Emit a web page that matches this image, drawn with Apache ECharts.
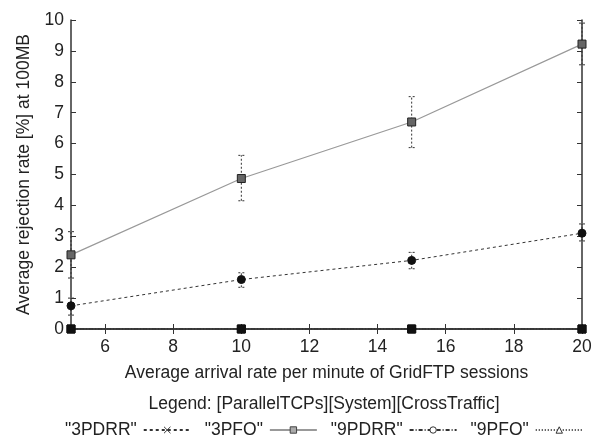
<!DOCTYPE html>
<html>
<head>
<meta charset="utf-8">
<script src="https://cdn.jsdelivr.net/npm/echarts@6/dist/echarts.min.js"></script>
<style>html,body{margin:0;padding:0;background:#fff;}#c{width:601px;height:435px;}</style>
</head>
<body>
<div id="c"></div>
<script>
const xValues = [5, 10, 15, 20];
const xTicks = [6, 8, 10, 12, 14, 16, 18, 20];
const seriesNames = ['"3PDRR"', '"3PFQ"', '"9PDRR"', '"9PFQ"'];
const pdrr3 = [0.75, 1.6, 2.22, 3.1];
const pdrr3Low = [0.45, 1.35, 1.95, 2.85];
const pdrr3High = [1.0, 1.82, 2.48, 3.4];
const pfq3 = [2.4, 4.87, 6.7, 9.22];
const pfq3Low = [1.65, 4.15, 5.87, 8.55];
const pfq3High = [3.15, 5.62, 7.52, 9.9];
const pdrr9 = [0, 0, 0, 0];
const pfq9 = [0, 0, 0, 0];

const FONT = 'Liberation Sans, Arial, sans-serif';
const TXT = '#222';
const FS = 17.5;

function pts(ys, sym) {
  return xValues.map((x, i) => ({ value: [x, ys[i]], symbol: sym }));
}
function errData(lo, hi) {
  return xValues.map((x, i) => [x, lo[i], hi[i]]);
}
function errRender(params, api) {
  const x = api.value(0);
  const p1 = api.coord([x, api.value(1)]);
  const p2 = api.coord([x, api.value(2)]);
  const w = 3;
  const st = { stroke: '#333', lineWidth: 1, lineDash: [2, 2], fill: null };
  return {
    type: 'group',
    children: [
      { type: 'line', shape: { x1: p1[0], y1: p1[1], x2: p2[0], y2: p2[1] }, style: st },
      { type: 'line', shape: { x1: p1[0] - w, y1: p1[1], x2: p1[0] + w, y2: p1[1] }, style: st },
      { type: 'line', shape: { x1: p2[0] - w, y1: p2[1], x2: p2[0] + w, y2: p2[1] }, style: st }
    ]
  };
}

const chart = echarts.init(document.getElementById('c'), null, { renderer: 'canvas' });
const axisCommon = {
  axisLine: { show: true, lineStyle: { color: '#333', width: 1.5 } },
  splitLine: { show: false }
};
chart.setOption({
  animation: false,
  backgroundColor: '#fff',
  textStyle: { fontFamily: FONT, color: TXT },
  grid: { left: 71, right: 19, top: 20, bottom: 106 },
  xAxis: [
    Object.assign({
      type: 'value', min: 5, max: 20, position: 'bottom',
      name: 'Average arrival rate per minute of GridFTP sessions',
      nameLocation: 'middle', nameGap: 35,
      nameTextStyle: { fontSize: FS, color: TXT, fontFamily: FONT },
      axisTick: { show: true, inside: true, length: 5, customValues: xTicks, lineStyle: { color: '#333' } },
      axisLabel: { show: true, customValues: xTicks, fontSize: FS, color: TXT, fontFamily: FONT, margin: 9 }
    }, axisCommon),
    Object.assign({
      type: 'value', min: 5, max: 20, position: 'top',
      axisTick: { show: true, inside: true, length: 5, customValues: xTicks, lineStyle: { color: '#333' } },
      axisLabel: { show: false }
    }, axisCommon)
  ],
  yAxis: [
    Object.assign({
      type: 'value', min: 0, max: 10, interval: 1, position: 'left',
      name: 'Average rejection rate [%] at 100MB',
      nameLocation: 'middle', nameGap: 29,
      nameTextStyle: { fontSize: FS, color: TXT, fontFamily: FONT },
      axisTick: { show: true, inside: true, length: 5, lineStyle: { color: '#333' } },
      axisLabel: { fontSize: FS, color: TXT, fontFamily: FONT, margin: 7 }
    }, axisCommon),
    Object.assign({
      type: 'value', min: 0, max: 10, interval: 1, position: 'right',
      axisTick: { show: true, inside: true, length: 5, lineStyle: { color: '#333' } },
      axisLabel: { show: false }
    }, axisCommon)
  ],
  legend: {
    left: 60, top: 416,
    align: 'right',
    itemWidth: 47, itemHeight: 8, itemGap: 13,
    textStyle: { fontSize: FS, color: TXT, fontFamily: FONT, padding: [0, 2, 0, 0] },
    data: [
      { name: seriesNames[0], itemStyle: { color: 'none', borderColor: '#333', borderWidth: 1 } },
      { name: seriesNames[1], itemStyle: { color: '#aaa', borderColor: '#444', borderWidth: 1 } },
      { name: seriesNames[2], itemStyle: { color: '#fff', borderColor: '#333', borderWidth: 1 } },
      { name: seriesNames[3], itemStyle: { color: '#fff', borderColor: '#333', borderWidth: 1 } }
    ]
  },
  graphic: [
    {
      type: 'text', x: 324, y: 395,
      style: { text: 'Legend: [ParallelTCPs][System][CrossTraffic]', font: FS + 'px ' + FONT, fill: TXT, align: 'center', verticalAlign: 'top' }
    }
  ],
  series: [
    {
      name: seriesNames[0], type: 'line', z: 3,
      symbol: 'path://M0,0L10,10M10,0L0,10', symbolSize: 8,
      data: pts(pdrr3, 'circle'),
      lineStyle: { color: '#333', width: 1, type: [3, 3] },
      itemStyle: { color: '#111', borderColor: '#111' }
    },
    {
      name: seriesNames[1], type: 'line', z: 3,
      symbol: 'rect', symbolSize: 8,
      data: pts(pfq3, 'rect'),
      lineStyle: { color: '#999', width: 1.2, type: 'solid' },
      itemStyle: { color: '#666', borderColor: '#222', borderWidth: 1 }
    },
    {
      name: seriesNames[2], type: 'line', z: 4,
      symbol: 'circle', symbolSize: 8,
      data: pts(pdrr9, 'rect'),
      lineStyle: { color: '#333', width: 1, type: [4, 2, 1, 2] },
      itemStyle: { color: '#111', borderColor: '#111' }
    },
    {
      name: seriesNames[3], type: 'line', z: 4,
      symbol: 'triangle', symbolSize: 8,
      data: pts(pfq9, 'rect'),
      lineStyle: { color: '#333', width: 1, type: [1, 2] },
      itemStyle: { color: '#111', borderColor: '#111' }
    },
    {
      type: 'custom', renderItem: errRender, z: 2,
      data: errData(pdrr3Low, pdrr3High), encode: { x: 0, y: [1, 2] }, silent: true
    },
    {
      type: 'custom', renderItem: errRender, z: 2,
      data: errData(pfq3Low, pfq3High), encode: { x: 0, y: [1, 2] }, silent: true
    }
  ]
});
</script>
</body>
</html>
